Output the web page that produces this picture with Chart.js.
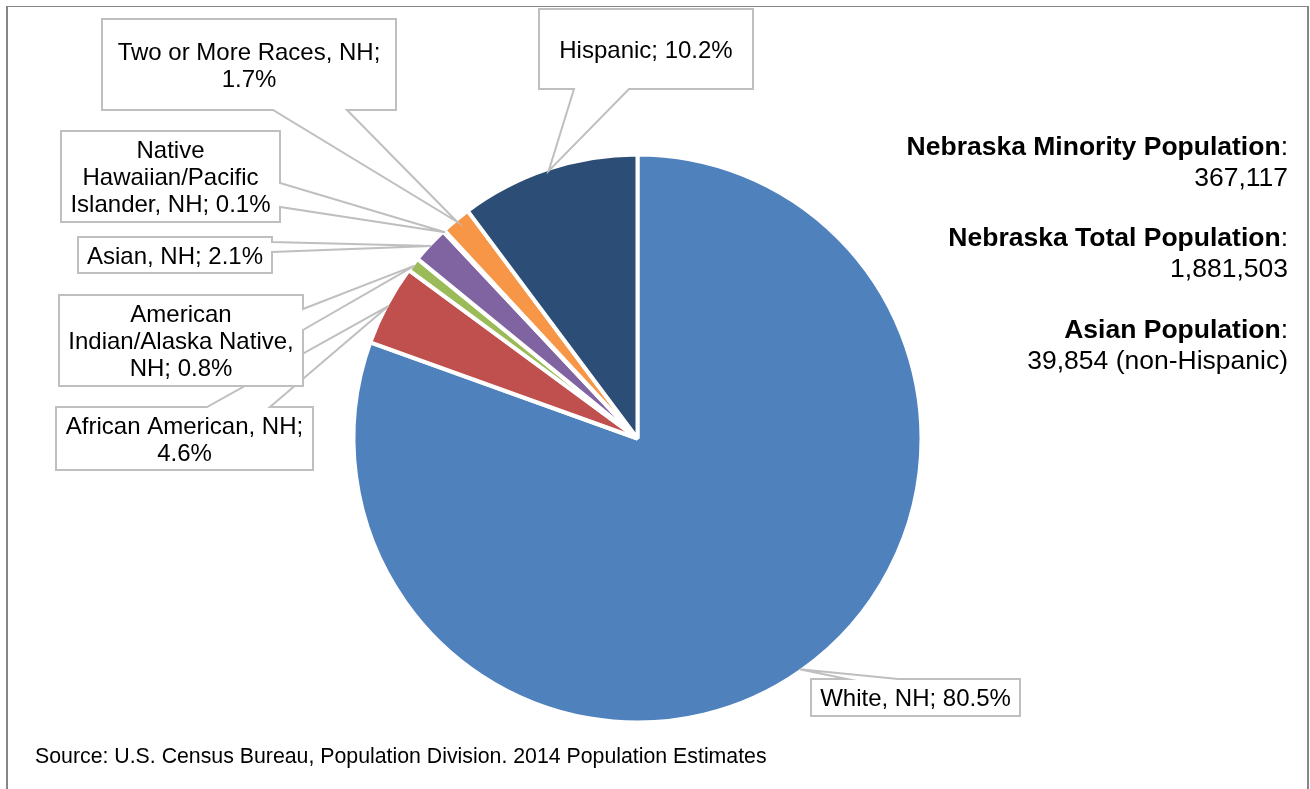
<!DOCTYPE html>
<html>
<head>
<meta charset="utf-8">
<script src="https://cdn.jsdelivr.net/npm/chart.js@4"></script>
<style>
    body { margin: 0; background: #fff; font-family: 'Liberation Sans', Arial, sans-serif; }
    .wrap { position: relative; width: 1310px; height: 789px; overflow: hidden; }
    .frame { position: absolute; left: 6px; top: 6px; width: 1299px; height: 820px;
             border-left: 2px solid #868686; border-top: 1px solid #868686; border-right: 2px solid #868686; }
    canvas { position: absolute; left: 0; top: 0; }
    .stat { position: absolute; right: 22px; text-align: right; font-size: 26.5px; line-height: 31px; color: #000; }
    .stat b { font-weight: bold; }
    .source { position: absolute; left: 35px; top: 745px; font-size: 21.3px; line-height: 22px; color: #000; }
</style>
</head>
<body>
<div class="wrap">
    <div class="frame"></div>
    <canvas id="pieChart" width="1310" height="789"></canvas>
    <div class="stat" style="top:131px"><b>Nebraska Minority Population</b>:<br>367,117</div>
    <div class="stat" style="top:222px"><b>Nebraska Total Population</b>:<br>1,881,503</div>
    <div class="stat" style="top:314px"><b>Asian Population</b>:<br>39,854 (non-Hispanic)</div>
    <div class="source">Source: U.S. Census Bureau, Population Division. 2014 Population Estimates</div>
</div>
<script>
// Nebraska population by race/ethnicity, 2014 (percent)
const categories = [
    'White, NH',
    'African American, NH',
    'American Indian/Alaska Native, NH',
    'Asian, NH',
    'Native Hawaiian/Pacific Islander, NH',
    'Two or More Races, NH',
    'Hispanic'
];
const shares = [80.5, 4.6, 0.8, 2.1, 0.1, 1.7, 10.2];

const sliceColors = ['#4F81BD', '#C0504D', '#9BBB59', '#8064A2', '#4BACC6', '#F79646', '#2C4D75'];

// Callout boxes (same order as categories): box + where the pointer leaves the box
const callouts = [
    { x: 811, y: 679, w: 209, h: 37, side: 'top', b1: 847, b2: 898 },
    { x: 56, y: 407, w: 257, h: 63, side: 'top', b1: 207, b2: 270 },
    { x: 59, y: 295, w: 244, h: 91, side: 'right', b1: 309, b2: 330 },
    { x: 78, y: 237, w: 194, h: 36, side: 'right', b1: 242, b2: 252 },
    { x: 61, y: 131, w: 219, h: 91, side: 'right', b1: 183, b2: 207 },
    { x: 102, y: 19, w: 294, h: 91, side: 'bottom', b1: 273, b2: 347 },
    { x: 539, y: 9, w: 214, h: 80, side: 'bottom', b1: 574, b2: 629 }
];

const labelFont = '24px "Liberation Sans", Arial, sans-serif';
const lineGap = 27;

function wrapText(ctx, text, maxWidth) {
    const words = text.split(' ');
    const lines = [];
    let line = '';
    words.forEach(word => {
        const test = line ? line + ' ' + word : word;
        if (line && ctx.measureText(test).width > maxWidth) {
            lines.push(line);
            line = word;
        } else {
            line = test;
        }
    });
    if (line) lines.push(line);
    return lines;
}

function calloutPath(ctx, c, ax, ay) {
    const r = c.x + c.w, btm = c.y + c.h;
    ctx.beginPath();
    ctx.moveTo(c.x, c.y);
    if (c.side === 'top') { ctx.lineTo(c.b1, c.y); ctx.lineTo(ax, ay); ctx.lineTo(c.b2, c.y); }
    ctx.lineTo(r, c.y);
    if (c.side === 'right') { ctx.lineTo(r, c.b1); ctx.lineTo(ax, ay); ctx.lineTo(r, c.b2); }
    ctx.lineTo(r, btm);
    if (c.side === 'bottom') { ctx.lineTo(c.b2, btm); ctx.lineTo(ax, ay); ctx.lineTo(c.b1, btm); }
    ctx.lineTo(c.x, btm);
    ctx.closePath();
}

// Draws the data-label callouts, pointing at the middle of each slice
const calloutPlugin = {
    id: 'callouts',
    afterDatasetsDraw(chart) {
        const ctx = chart.ctx;
        const arcs = chart.getDatasetMeta(0).data;
        ctx.save();
        ctx.font = labelFont;
        arcs.forEach((arc, i) => {
            const c = callouts[i];
            const p = arc.getProps(['x', 'y', 'startAngle', 'endAngle', 'outerRadius'], true);
            const mid = (p.startAngle + p.endAngle) / 2;
            const ax = p.x + Math.cos(mid) * (p.outerRadius - 2);
            const ay = p.y + Math.sin(mid) * (p.outerRadius - 2);

            calloutPath(ctx, c, ax, ay);
            ctx.fillStyle = '#ffffff';
            ctx.fill();
            ctx.strokeStyle = '#BFBFBF';
            ctx.lineWidth = 2;
            ctx.stroke();

            const text = categories[i] + '; ' + shares[i].toFixed(1) + '%';
            const lines = wrapText(ctx, text, c.w - 12);
            ctx.fillStyle = '#000000';
            ctx.textAlign = 'center';
            ctx.textBaseline = 'middle';
            const cx = c.x + c.w / 2;
            const top = c.y + c.h / 2 - (lines.length - 1) * lineGap / 2;
            lines.forEach((ln, k) => ctx.fillText(ln, cx, top + k * lineGap + 2));
        });
        ctx.restore();
    }
};

function initializeChart() {
    new Chart(document.getElementById('pieChart'), {
        type: 'pie',
        data: {
            labels: categories,
            datasets: [{
                data: shares,
                backgroundColor: sliceColors,
                borderColor: '#ffffff',
                borderWidth: 4
            }]
        },
        options: {
            responsive: false,
            animation: false,
            events: [],
            radius: 284,
            layout: { padding: { left: 300, right: 335, top: 100, bottom: 12 } },
            plugins: {
                legend: { display: false },
                tooltip: { enabled: false }
            }
        },
        plugins: [calloutPlugin]
    });
}

initializeChart();
</script>
</body>
</html>
